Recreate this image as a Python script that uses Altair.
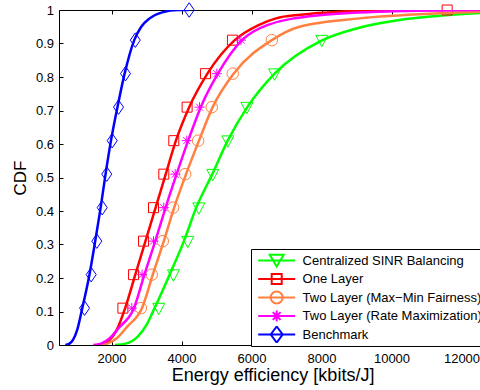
import altair as alt
import pandas as pd

SERIES = ["Centralized SINR Balancing", "One Layer", "Two Layer (Max\u2212Min Fairness)",
          "Two Layer (Rate Maximization)", "Benchmark"]
COLORS = ["#00FF00", "#FF0000", "#FF8040", "#FF00FF", "#0000FF"]

X_TICKS = [2000, 4000, 6000, 8000, 10000, 12000]
Y_TICKS = [0, 0.1, 0.2, 0.3, 0.4, 0.5, 0.6, 0.7, 0.8, 0.9, 1.0]

green_line_x = [2100, 2400, 2750, 3000, 3230, 3660, 4070, 4420, 4880, 5320, 5880, 6660, 8030, 9000, 10230, 11300, 12700]
green_line_y = [0, 0.004, 0.025, 0.06, 0.11, 0.21, 0.31, 0.41, 0.51, 0.61, 0.71, 0.81, 0.91, 0.945, 0.97, 0.982, 0.992]
green_mark_x = [3350, 3770, 4180, 4495, 4895, 5325, 5870, 6660, 8010]
green_mark_y = [0.11, 0.21, 0.31, 0.41, 0.51, 0.61, 0.71, 0.81, 0.91]

red_line_x = [1600, 1800, 1950, 2150, 2390, 2680, 2970, 3260, 3550, 3840, 4220, 4740, 5520, 6200, 6700, 7400, 8500, 10000, 11600, 12700]
red_line_y = [0, 0.004, 0.015, 0.045, 0.11, 0.21, 0.31, 0.41, 0.51, 0.61, 0.71, 0.81, 0.91, 0.955, 0.975, 0.986, 0.995, 0.999, 1.0, 1.0]
red_mark_x = [2325, 2630, 2915, 3200, 3495, 3780, 4160, 4685, 5455, 11590]
red_mark_y = [0.11, 0.21, 0.31, 0.41, 0.51, 0.61, 0.71, 0.81, 0.91, 1.0]

orange_line_x = [1650, 1900, 2150, 2450, 2870, 3180, 3495, 3790, 4130, 4500, 4890, 5490, 6580, 7370, 9090, 11370, 12700]
orange_line_y = [0, 0.005, 0.02, 0.055, 0.11, 0.21, 0.31, 0.41, 0.51, 0.61, 0.71, 0.81, 0.91, 0.95, 0.975, 0.99, 0.995]
orange_mark_x = [2840, 3150, 3465, 3760, 4105, 4475, 4865, 5465, 6580]
orange_mark_y = [0.11, 0.21, 0.31, 0.41, 0.51, 0.61, 0.71, 0.81, 0.91]

magenta_line_x = [1480, 1700, 1950, 2200, 2640, 2940, 3250, 3545, 3860, 4190, 4550, 5040, 5730, 6450, 8000, 10000, 12700]
magenta_line_y = [0, 0.004, 0.02, 0.05, 0.11, 0.21, 0.31, 0.41, 0.51, 0.61, 0.71, 0.81, 0.91, 0.955, 0.985, 0.996, 1.0]
magenta_mark_x = [2580, 2875, 3200, 3495, 3820, 4150, 4515, 5010, 5700]
magenta_mark_y = [0.11, 0.21, 0.31, 0.41, 0.51, 0.61, 0.71, 0.81, 0.91]

blue_line_x = [680, 800, 900, 1020, 1165, 1370, 1535, 1690, 1830, 1985, 2170, 2375, 2650, 2850, 3090, 3450, 3900, 4220]
blue_line_y = [0, 0.004, 0.015, 0.045, 0.11, 0.21, 0.31, 0.41, 0.51, 0.61, 0.71, 0.81, 0.91, 0.95, 0.975, 0.993, 1.0, 1.0]
blue_mark_x = [1230, 1420, 1580, 1735, 1865, 2020, 2200, 2400, 2680, 4220]
blue_mark_y = [0.11, 0.21, 0.31, 0.41, 0.51, 0.61, 0.71, 0.81, 0.91, 1.0]

# marker glyphs (custom symbol paths)
TRI = "M-1,-0.8L1,-0.8L0,1.1Z"
DIA = "M0,-1.45L1,0L0,1.45L-1,0Z"
AST = "M-1,0H1M0,-1V1M-0.7,-0.7L0.7,0.7M-0.7,0.7L0.7,-0.7"

# legend glyphs: line sample + marker
LEG_PATHS = [
    "M-2.467,0H2.467M-0.93,-0.76L0.93,-0.76L0,0.8Z",
    "M-2.467,0H2.467M-0.667,-0.667H0.667V0.667H-0.667Z",
    "M-2.467,0H2.467M0.8,0A0.8,0.8,0,1,1,-0.8,0A0.8,0.8,0,1,1,0.8,0Z",
    "M-2.467,0H2.467M0,-0.73V0.73M-0.52,-0.52L0.52,0.52M-0.52,0.52L0.52,-0.52",
    "M-2.467,0H2.467M0,-1.07L0.8,0L0,1.07L-0.8,0Z",
]

FONT = "Liberation Sans"
XDOM = [500, 12700]
YDOM = [0, 1]

def xs(axis):
    return alt.X("x:Q", scale=alt.Scale(domain=XDOM, nice=False, zero=False), axis=axis)

def ys(axis):
    return alt.Y("y:Q", scale=alt.Scale(domain=YDOM, nice=False, zero=False), axis=axis)

main_x = alt.Axis(orient="bottom", values=X_TICKS, format="d", ticks=False, tickSize=0,
                  domain=True, domainColor="black", domainWidth=1, grid=False,
                  labelFont=FONT, labelFontSize=13, labelColor="black", labelPadding=7,
                  labelFlush=False, labelOverlap=False,
                  title="Energy efficiency [kbits/J]", titleFont=FONT, titleFontSize=18,
                  titleFontWeight="normal", titleColor="black", titlePadding=1)
main_y = alt.Axis(orient="left", values=Y_TICKS, format=".1~f", ticks=False, tickSize=0,
                  domain=True, domainColor="black", domainWidth=1, grid=False,
                  labelFont=FONT, labelFontSize=13, labelColor="black", labelPadding=5.5,
                  labelFlush=False, labelOverlap=False,
                  title="CDF", titleFont=FONT, titleFontSize=17, titleFontWeight="normal",
                  titleColor="black", titlePadding=5.7)
tick_x_bottom = alt.Axis(orient="bottom", offset=-4, values=X_TICKS, ticks=True, tickSize=4,
                         tickColor="black", domain=False, labels=False, grid=False, title="")
tick_y_left = alt.Axis(orient="left", offset=-4, values=Y_TICKS, ticks=True, tickSize=4,
                       tickColor="black", domain=False, labels=False, grid=False, title="")
top_dom = alt.Axis(orient="top", values=X_TICKS, ticks=False, domain=True, domainColor="black",
                   labels=False, grid=False, title="")
top_ticks = alt.Axis(orient="top", offset=-4, values=X_TICKS, ticks=True, tickSize=4,
                     tickColor="black", domain=False, labels=False, grid=False, title="")

series_data = [
    (green_line_x, green_line_y, green_mark_x, green_mark_y, COLORS[0], TRI, 144),
    (red_line_x, red_line_y, red_mark_x, red_mark_y, COLORS[1], "square", 100),
    (orange_line_x, orange_line_y, orange_mark_x, orange_mark_y, COLORS[2], "circle", 132),
    (magenta_line_x, magenta_line_y, magenta_mark_x, magenta_mark_y, COLORS[3], AST, 100),
    (blue_line_x, blue_line_y, blue_mark_x, blue_mark_y, COLORS[4], DIA, 100),
]

axis_plan = [
    (main_x, main_y), (tick_x_bottom, tick_y_left), (top_dom, None), (top_ticks, None),
]

layers = []
k = 0
for (lx, ly, mx, my, col, shp, sz) in series_data:
    ldf = pd.DataFrame({"x": lx, "y": ly})
    mdf = pd.DataFrame({"x": mx, "y": my})
    ax_x, ax_y = axis_plan[k] if k < len(axis_plan) else (None, None)
    k += 1
    line = alt.Chart(ldf).mark_line(color=col, strokeWidth=2.5, interpolate="monotone", clip=True).encode(
        x=xs(ax_x), y=ys(ax_y))
    pts = alt.Chart(mdf).mark_point(shape=shp, size=sz, filled=False, color=col, strokeWidth=1,
                                    opacity=1).encode(x=xs(None), y=ys(None))
    layers += [line, pts]

legend_df = pd.DataFrame({"series": SERIES})
leg = alt.Legend(orient="none", legendX=192, legendY=239, title="")
legend_layer = alt.Chart(legend_df).transform_filter("false").mark_point(
    filled=False, strokeWidth=2, opacity=1, size=225).encode(
    color=alt.Color("series:N", scale=alt.Scale(domain=SERIES, range=COLORS), legend=leg),
    shape=alt.Shape("series:N", scale=alt.Scale(domain=SERIES, range=LEG_PATHS), legend=leg),
)
layers.append(legend_layer)

chart = alt.layer(*layers).resolve_axis(x="independent", y="independent").properties(
    width=427, height=335,
    autosize=alt.AutoSizeParams(type="none"),
    padding={"left": 59, "top": 10, "right": -6, "bottom": 45},
).configure_view(strokeWidth=0).configure_legend(
    strokeColor="black", strokeWidth=1, fillColor="white", padding=3, cornerRadius=0,
    labelFont=FONT, labelFontSize=13, labelColor="black", labelLimit=300,
    symbolSize=225, symbolStrokeWidth=2, symbolOffset=14.2, labelOffset=17.4, rowPadding=1.5,
    clipHeight=17,
)

chart.save("out.html", embed_options={"renderer": "svg", "actions": False})
